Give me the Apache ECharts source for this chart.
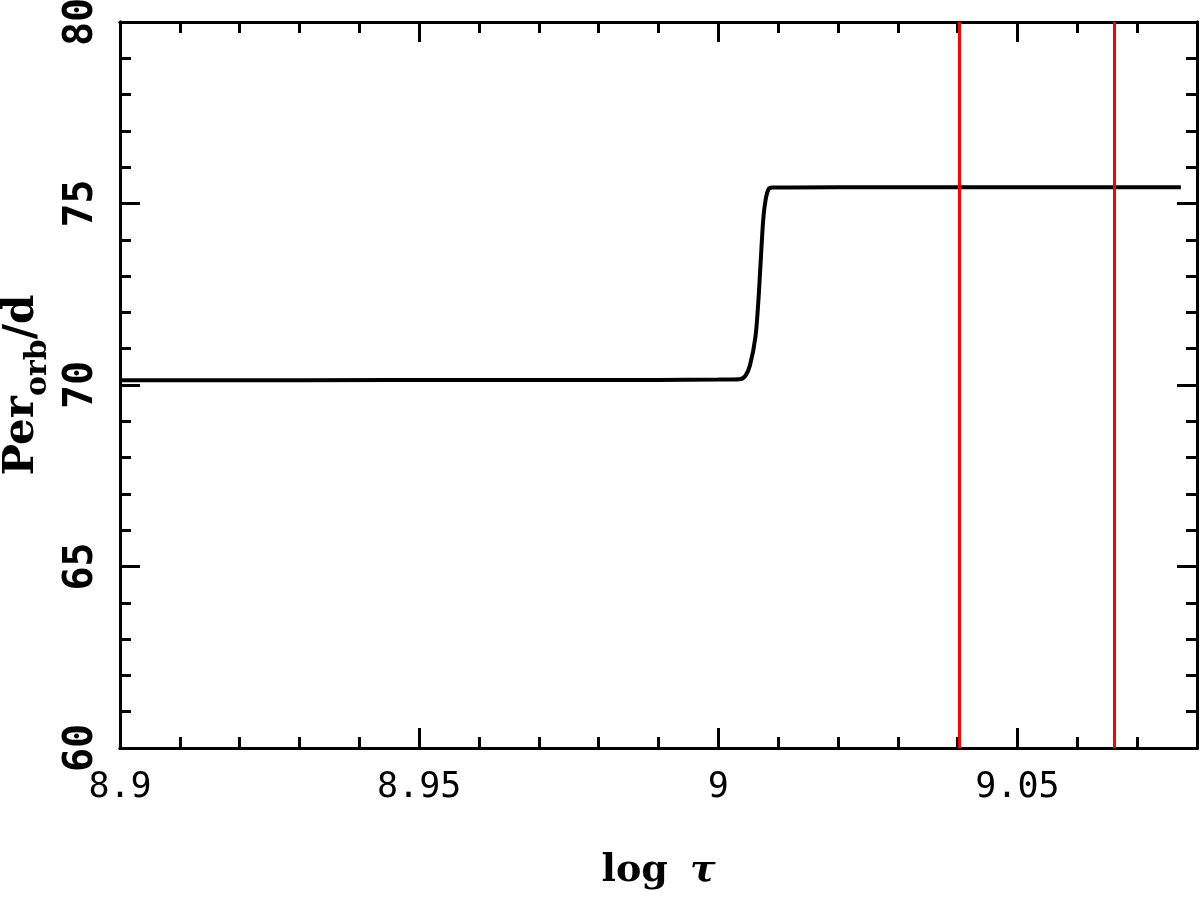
<!DOCTYPE html>
<html>
<head>
<meta charset="utf-8">
<script src="https://cdn.jsdelivr.net/npm/echarts@6/dist/echarts.min.js"></script>
<style>
  html, body { margin: 0; padding: 0; background: #fff; }
  #chart { width: 1200px; height: 897px; }
</style>
</head>
<body>
<div id="chart"></div>
<script>
// log tau values along the curve
var logTau = [8.9, 8.93, 8.96, 8.99, 9.0, 9.0035, 9.0045, 9.0053, 9.0062, 9.0067, 9.007, 9.0075, 9.0079, 9.0084, 9.009, 9.02, 9.04, 9.06, 9.0773];
// orbital period in days
var period = [70.13, 70.13, 70.14, 70.14, 70.15, 70.16, 70.25, 70.55, 71.32, 72.34, 73.17, 74.55, 75.1, 75.4, 75.44, 75.45, 75.45, 75.45, 75.45];
// red vertical markers
var markers = [9.0402, 9.0662];

var xTicksMajor = 0.05, xTicksMinor = 0.01;
var yTicksMajor = 5, yTicksMinor = 1;
var xMin = 8.9, xMax = 9.08, yMin = 60, yMax = 80;

var chart = echarts.init(document.getElementById("chart"));

function xAx(pos, interval, len, labels) {
  return {
    type: "value",
    position: pos,
    min: xMin,
    max: xMax,
    interval: interval,
    axisLine: { show: true, onZero: false, lineStyle: { color: "#000", width: 3 } },
    axisTick: { show: true, inside: true, length: len, lineStyle: { color: "#000", width: 3 } },
    splitLine: { show: false },
    axisLabel: {
      show: labels,
      showMaxLabel: false,
      margin: 22,
      color: "#000",
      fontFamily: "DejaVu Sans Mono",
      fontSize: 35,
      formatter: function (v) { return String(+v.toFixed(2)); }
    }
  };
}

function yAx(pos, interval, len, labels) {
  return {
    type: "value",
    position: pos,
    min: yMin,
    max: yMax,
    interval: interval,
    axisLine: { show: true, onZero: false, lineStyle: { color: "#000", width: 3 } },
    axisTick: { show: true, inside: true, length: len, lineStyle: { color: "#000", width: 3 } },
    splitLine: { show: false },
    axisLabel: {
      show: labels,
      rotate: 90,
      margin: 18,
      color: "#000",
      fontFamily: "DejaVu Sans Mono",
      fontWeight: "bold",
      fontSize: 40
    }
  };
}

var xMain = xAx("bottom", xTicksMajor, 20, true);
xMain.name = "{a|log}{b|τ}";
xMain.nameLocation = "middle";
xMain.nameGap = 104;
xMain.nameMoveOverlap = false;
xMain.nameTextStyle = {
  color: "#000",
  rich: {
    a: { fontFamily: "DejaVu Serif", fontWeight: "bold", fontSize: 38, color: "#000" },
    b: { fontFamily: "DejaVu Serif", fontWeight: "bold", fontStyle: "italic", fontSize: 38, color: "#000", padding: [0, 0, 0, 22] }
  }
};

var yMain = yAx("left", yTicksMajor, 20, true);
yMain.name = "{a|Per}{b|orb}{a|/d}";
yMain.nameLocation = "middle";
yMain.nameGap = 67;
yMain.nameMoveOverlap = false;
yMain.nameTextStyle = {
  color: "#000",
  rich: {
    a: { fontFamily: "DejaVu Serif", fontWeight: "bold", fontSize: 42, lineHeight: 42, verticalAlign: "top", color: "#000" },
    b: { fontFamily: "DejaVu Serif", fontWeight: "bold", fontSize: 30, lineHeight: 52, verticalAlign: "bottom", color: "#000" }
  }
};

chart.setOption({
  animation: false,
  backgroundColor: "#fff",
  grid: { left: 120, right: 3, top: 22, bottom: 149, containLabel: false, outerBoundsMode: "none" },
  xAxis: [
    xMain,
    xAx("bottom", xTicksMinor, 11, false),
    xAx("top", xTicksMajor, 20, false),
    xAx("top", xTicksMinor, 11, false)
  ],
  yAxis: [
    yMain,
    yAx("left", yTicksMinor, 11, false),
    yAx("right", yTicksMajor, 20, false),
    yAx("right", yTicksMinor, 11, false)
  ],
  series: [
    {
      type: "line",
      data: logTau.map(function (t, i) { return [t, period[i]]; }),
      smooth: 0.3,
      showSymbol: false,
      lineStyle: { color: "#000", width: 4 },
      markLine: {
        silent: true,
        symbol: "none",
        precision: 4,
        label: { show: false },
        lineStyle: { color: "#ff0000", width: 3, type: "solid" },
        data: markers.map(function (v) { return { xAxis: v }; })
      }
    }
  ]
});
</script>
</body>
</html>
